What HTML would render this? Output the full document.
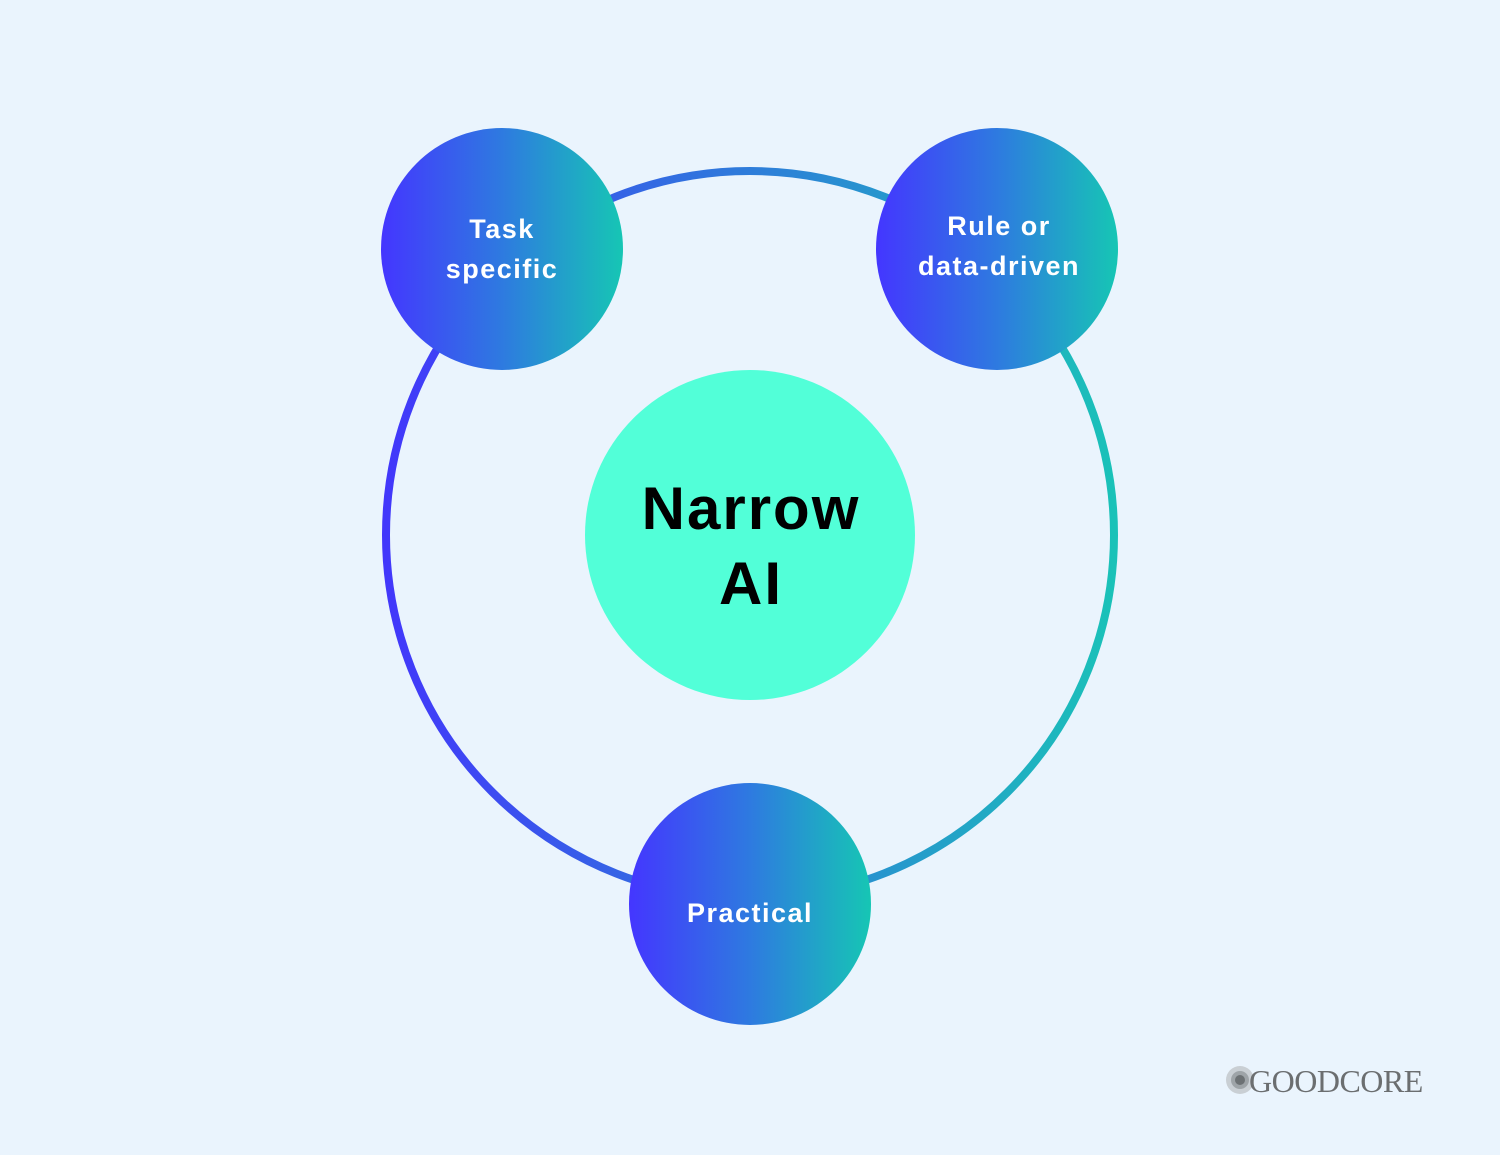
<!DOCTYPE html>
<html><head><meta charset="utf-8"><style>
html,body{margin:0;padding:0;background:#EAF4FD;}
svg{display:block}
</style></head><body>
<svg width="1500" height="1155" viewBox="0 0 1500 1155" xmlns="http://www.w3.org/2000/svg">
<defs>
<linearGradient id="ring" x1="385" y1="0" x2="1115" y2="0" gradientUnits="userSpaceOnUse">
<stop offset="0" stop-color="#4237FB"/><stop offset="1" stop-color="#1AC2B8"/>
</linearGradient>
<linearGradient id="node" x1="0" y1="0" x2="1" y2="0">
<stop offset="0" stop-color="#4436FF"/><stop offset="0.5" stop-color="#2E7AE0"/><stop offset="1" stop-color="#16C6B4"/>
</linearGradient>
</defs>
<rect width="1500" height="1155" fill="#EAF4FD"/>
<circle cx="750" cy="535" r="364" fill="none" stroke="url(#ring)" stroke-width="8"/>
<circle cx="750" cy="535" r="165" fill="#52FFD8"/>
<circle cx="502" cy="249" r="121" fill="url(#node)"/>
<circle cx="997" cy="249" r="121" fill="url(#node)"/>
<circle cx="750" cy="904" r="121" fill="url(#node)"/>
<g font-family="Liberation Sans, sans-serif" font-weight="bold" fill="#fff" font-size="27" letter-spacing="1.5" text-anchor="middle">
<text x="502" y="238">Task</text>
<text x="502" y="278">specific</text>
<text x="999" y="235">Rule or</text>
<text x="999" y="275">data-driven</text>
<text x="750" y="922">Practical</text>
</g>
<g font-family="Liberation Sans, sans-serif" font-weight="bold" fill="#000" font-size="60" letter-spacing="2" text-anchor="middle">
<text x="751" y="529">Narrow</text>
<text x="751" y="604">AI</text>
</g>
<circle cx="1240" cy="1080" r="14" fill="#c9cfd4"/>
<circle cx="1240" cy="1080" r="9" fill="#9ea4a8"/>
<circle cx="1240" cy="1080" r="5" fill="#6c7174"/>
<text x="1249" y="1092" font-family="Liberation Serif, serif" font-size="32" fill="#6b6e70" letter-spacing="-0.5">GOODCORE</text>
</svg>
</body></html>
